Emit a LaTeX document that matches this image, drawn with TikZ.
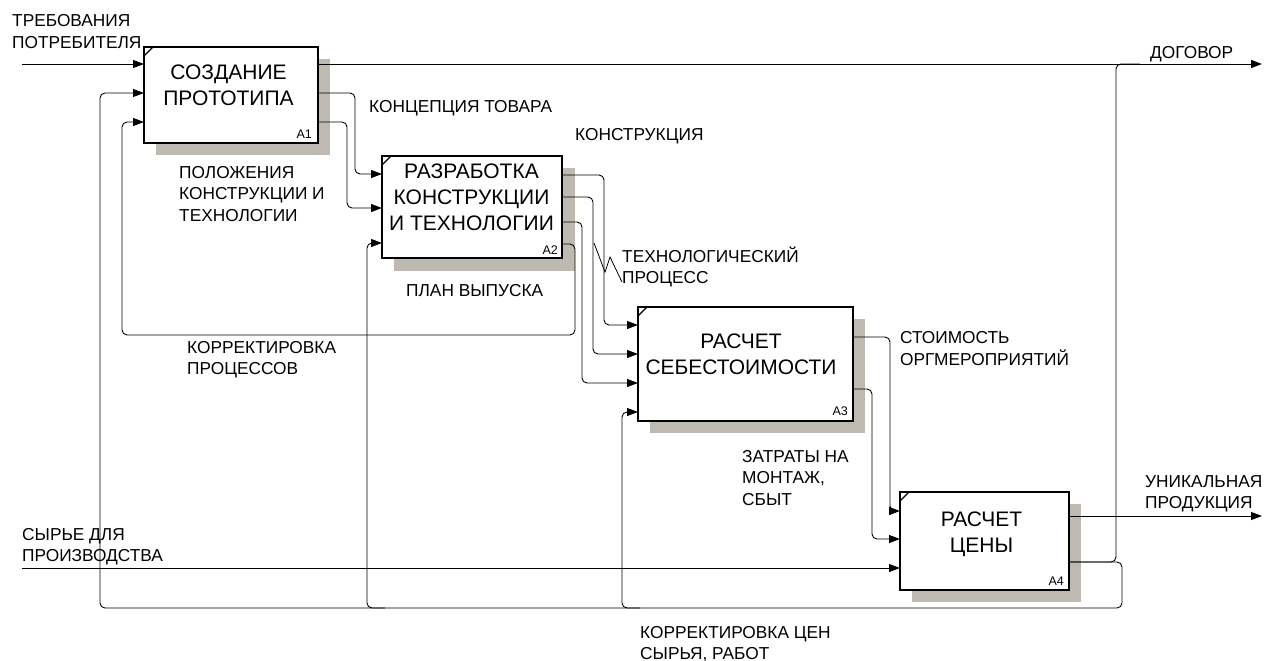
\documentclass[tikz,border=0pt]{standalone}
\usepackage{fontspec}
\setmainfont{Liberation Sans}
\usetikzlibrary{arrows.meta}
\definecolor{shadowgray}{RGB}{190,186,178}
\newcommand{\mlines}[1]{\begin{tabular}[t]{@{}l@{}}#1\end{tabular}}
\newcommand{\clines}[1]{\begin{tabular}[t]{@{}c@{}}#1\end{tabular}}
\begin{document}
\begin{tikzpicture}[x=1pt,y=-1pt,
  box/.style={draw, line width=1.8pt, fill=white, inner sep=0pt, outer sep=0pt, anchor=north west},
  conn/.style={line width=0.9pt, rounded corners=5pt},
  arr/.style={conn, -{Triangle[length=11pt,width=8pt]}},
  lbl/.style={inner sep=0pt, anchor=base west, font=\fontsize{17.3}{21.5}\selectfont},
  btxt/.style={inner sep=0pt, anchor=base, font=\fontsize{21}{26}\selectfont},
  num/.style={inner sep=0pt, anchor=base east, font=\fontsize{12.5}{14}\selectfont},
  cornermark/.style={line width=1.2pt}]
\fill[white] (0,0) rectangle (1272,661);
\useasboundingbox (0,0) rectangle (1272,661);
% shadows
\fill[shadowgray] (156,59) rectangle (330,155);
\fill[shadowgray] (394,168) rectangle (575,271);
\fill[shadowgray] (650,319) rectangle (865,433);
\fill[shadowgray] (912,504) rectangle (1081,602);
% boxes
\node[box, minimum width=174pt, minimum height=96pt] (A1) at (144,47) {};
\node[box, minimum width=180pt, minimum height=102pt] (A2) at (382,156) {};
\node[box, minimum width=215pt, minimum height=114pt] (A3) at (638,307) {};
\node[box, minimum width=169pt, minimum height=98pt] (A4) at (900,492) {};
\foreach \b in {A1,A2,A3,A4}{
  \draw[cornermark] ([yshift=-9pt]\b.north west) -- ([xshift=9pt]\b.north west);
}
% box texts
\node[btxt] (A1t) at (228.5,80) {\clines{СОЗДАНИЕ\\ПРОТОТИПА}};
\node[btxt] (A2t) at (471.5,178) {\clines{РАЗРАБОТКА\\КОНСТРУКЦИИ\\И ТЕХНОЛОГИИ}};
\node[btxt] (A3t) at (741,348) {\clines{РАСЧЕТ\\СЕБЕСТОИМОСТИ}};
\node[btxt] (A4t) at (981.5,526) {\clines{РАСЧЕТ\\ЦЕНЫ}};
\node[num] (A1n) at (312,138) {A1};
\node[num] (A2n) at (558,254) {A2};
\node[num] (A3n) at (848,415) {A3};
\node[num] (A4n) at (1064,585) {A4};
% ports
\coordinate (src1) at (22,64);
\coordinate (src2) at (22,568);
\coordinate (snk1) at (1262,64);
\coordinate (snk2) at (1262,516);
\coordinate (A1i1) at (144,64);
\coordinate (A1i2) at (144,93);
\coordinate (A1i3) at (144,122);
\coordinate (A1o1) at (318,64);
\coordinate (A1o2) at (318,93);
\coordinate (A1o3) at (318,122);
\coordinate (A2i1) at (382,174);
\coordinate (A2i2) at (382,208);
\coordinate (A2i3) at (382,243);
\coordinate (A2o1) at (562,175);
\coordinate (A2o2) at (562,197);
\coordinate (A2o3) at (562,222);
\coordinate (A2o4) at (562,244);
\coordinate (A3i1) at (638,325);
\coordinate (A3i2) at (638,354);
\coordinate (A3i3) at (638,383);
\coordinate (A3i4) at (638,412);
\coordinate (A3o1) at (853,337);
\coordinate (A3o2) at (853,389);
\coordinate (A4i1) at (900,511);
\coordinate (A4i2) at (900,539);
\coordinate (A4i3) at (900,568);
\coordinate (A4o1) at (1069,516);
\coordinate (A4o2) at (1069,562);
\coordinate (fb1) at (385,608);
\coordinate (fb2) at (640,608);
\coordinate (dogj) at (1140,64);
% connectors
\draw[arr] (src1) -- (A1i1);
\draw[arr] (A1o1) -- (snk1);
\draw[arr] (A1o2) -| (355,174) -- (A2i1);
\draw[arr] (A1o3) -| (347,208) -- (A2i2);
\draw[arr] (A2o1) -| (604,325) -- (A3i1);
\draw[arr] (A2o2) -| (593,354) -- (A3i2);
\draw[arr] (A2o3) -| (582,383) -- (A3i3);
\draw[arr] (A2o4) -| (575,335) -| (122,122) -- (A1i3);
\draw[arr] (A3o1) -| (890,511) -- (A4i1);
\draw[arr] (A3o2) -| (872,539) -- (A4i2);
\draw[arr] (src2) -- (A4i3);
\draw[arr] (A4o1) -- (snk2);
\draw[conn] (A4o2) -| (1116,64) -- (dogj);
\draw[arr] (A4o2) -| (1122,608) -| (100,93) -- (A1i2);
\draw[arr] (fb1) -| (367,243) -- (A2i3);
\draw[arr] (fb2) -| (622,412) -- (A3i4);
\draw[line width=0.8pt] (594,243) -- (605,272) -- (610,257) -- (622,282);
% labels
\node[lbl] (l1) at (12,27) {\mlines{ТРЕБОВАНИЯ\\ПОТРЕБИТЕЛЯ}};
\node[lbl] (l2) at (1150,59) {ДОГОВОР};
\node[lbl] (l3) at (369,113) {КОНЦЕПЦИЯ ТОВАРА};
\node[lbl] (l4) at (179,178) {\mlines{ПОЛОЖЕНИЯ\\КОНСТРУКЦИИ И\\ТЕХНОЛОГИИ}};
\node[lbl] (l5) at (575,140) {КОНСТРУКЦИЯ};
\node[lbl] (l6) at (622,262) {\mlines{ТЕХНОЛОГИЧЕСКИЙ\\ПРОЦЕСС}};
\node[lbl] (l7) at (406,296) {ПЛАН ВЫПУСКА};
\node[lbl] (l8) at (187,353) {\mlines{КОРРЕКТИРОВКА\\ПРОЦЕССОВ}};
\node[lbl] (l9) at (900,343) {\mlines{СТОИМОСТЬ\\ОРГМЕРОПРИЯТИЙ}};
\node[lbl] (l10) at (742,462) {\mlines{ЗАТРАТЫ НА\\МОНТАЖ,\\СБЫТ}};
\node[lbl] (l11) at (22,540) {\mlines{СЫРЬЕ ДЛЯ\\ПРОИЗВОДСТВА}};
\node[lbl] (l12) at (1145,487) {\mlines{УНИКАЛЬНАЯ\\ПРОДУКЦИЯ}};
\node[lbl] (l13) at (640,638) {\mlines{КОРРЕКТИРОВКА ЦЕН\\СЫРЬЯ, РАБОТ}};
\end{tikzpicture}
\end{document}
